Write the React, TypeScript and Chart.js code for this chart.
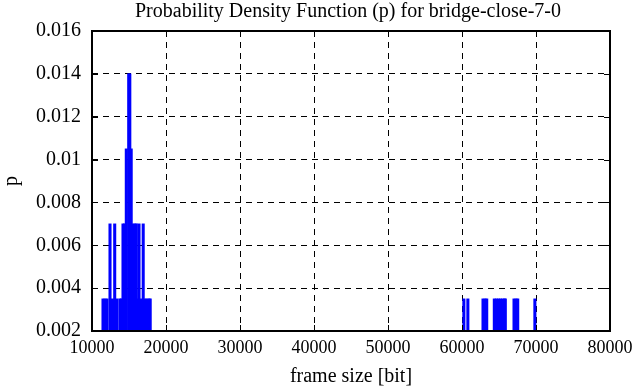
import React, { useEffect, useRef } from "react";
import { Chart, registerables } from "chart.js";

Chart.register(...registerables);

// Frame sizes (bit) of the impulses and their probabilities
const frameSizes = [
  11487, 11757, 12027, 12433, 12770, 13068, 13378,
  13784, 13960, 14189, 14406, 14635, 14960, 15108, 15297, 15541, 15811, 15987,
  16162, 16352, 16649, 16919, 17162, 17432, 17703, 17865,
  60252, 60792, 62840, 63110, 63340,
  64367, 64637, 64908, 65178, 65448, 65719, 65854,
  67030, 67300, 67530, 69848,
];
const probabilities = [
  0.0035, 0.0035, 0.0035, 0.007, 0.0035, 0.007, 0.0035,
  0.0035, 0.0035, 0.007, 0.007, 0.0105, 0.014, 0.014, 0.0105, 0.007, 0.007, 0.007,
  0.0035, 0.007, 0.0035, 0.007, 0.0035, 0.0035, 0.0035, 0.0035,
  0.0035, 0.0035, 0.0035, 0.0035, 0.0035,
  0.0035, 0.0035, 0.0035, 0.0035, 0.0035, 0.0035, 0.0035,
  0.0035, 0.0035, 0.0035, 0.0035,
];
const xTicks = [10000, 20000, 30000, 40000, 50000, 60000, 70000, 80000];
const yTicks = [0.002, 0.004, 0.006, 0.008, 0.01, 0.012, 0.014, 0.016];

const titleText = "Probability Density Function (p) for bridge-close-7-0";
const xTitle = "frame size [bit]";
const yTitle = "p";

const FONT = "'Liberation Serif', 'Times New Roman', serif";
const FS = 20;

const framePlugin = {
  id: "gnuplotFrame",
  afterDraw(chart: any) {
    const { ctx, chartArea } = chart;
    const { left, right, top, bottom } = chartArea;
    const xs = chart.scales.x;
    const ys = chart.scales.y;
    ctx.save();
    ctx.strokeStyle = "#000";
    ctx.setLineDash([]);
    ctx.lineWidth = 1;
    const t = 6;
    ctx.beginPath();
    xTicks.forEach((v) => {
      const px = Math.round(xs.getPixelForValue(v)) + 0.5;
      ctx.moveTo(px, bottom);
      ctx.lineTo(px, bottom - t);
      ctx.moveTo(px, top);
      ctx.lineTo(px, top + t);
    });
    yTicks.forEach((v) => {
      const py = Math.round(ys.getPixelForValue(v)) + 0.5;
      ctx.moveTo(left, py);
      ctx.lineTo(left + t, py);
      ctx.moveTo(right, py);
      ctx.lineTo(right - t, py);
    });
    ctx.stroke();
    ctx.lineWidth = 2;
    ctx.strokeRect(left, top, right - left, bottom - top);
    // title
    ctx.fillStyle = "#000";
    ctx.font = `${FS}px ${FONT}`;
    ctx.textAlign = "center";
    ctx.textBaseline = "middle";
    ctx.fillText(titleText, (left + right) / 2 - 3, 12);
    ctx.restore();
  },
};

export default function App() {
  const ref = useRef<HTMLCanvasElement | null>(null);
  useEffect(() => {
    if (!ref.current) return;
    const chart = new Chart(ref.current, {
      type: "bar",
      data: {
        datasets: [
          {
            data: frameSizes.map((x, i) => ({ x, y: probabilities[i] })),
            backgroundColor: "#0000ff",
            borderWidth: 0,
            barThickness: 2.4,
          } as any,
        ],
      },
      plugins: [framePlugin],
      options: {
        animation: false,
        responsive: false,
        maintainAspectRatio: false,
        layout: { padding: { left: 0, right: 26, top: 31, bottom: 0 } },
        plugins: {
          legend: { display: false },
          tooltip: { enabled: false },
          title: { display: false },
        },
        scales: {
          x: {
            type: "linear",
            min: 10000,
            max: 80000,
            offset: false,
            afterBuildTicks: (s: any) => {
              s.ticks = xTicks.map((v) => ({ value: v }));
            },
            afterFit: (s: any) => {
              s.height = 56;
              s.paddingRight = 0;
              s.paddingLeft = 0;
            },
            ticks: {
              color: "#000",
              font: { family: FONT, size: 18 },
              padding: 6,
              maxRotation: 0,
              autoSkip: false,
              callback: (v: any) => String(v),
            },
            grid: { color: "#000", drawTicks: false, lineWidth: 1, offset: false },
            border: { display: false, dash: [6, 5] },
            title: {
              display: true,
              text: xTitle,
              color: "#000",
              font: { family: FONT, size: FS, lineHeight: 1 },
              padding: { top: 0, bottom: 0 },
            },
          },
          y: {
            type: "linear",
            min: 0.002,
            max: 0.016,
            afterBuildTicks: (s: any) => {
              s.ticks = yTicks.map((v) => ({ value: v }));
            },
            afterFit: (s: any) => {
              s.width = 92;
            },
            ticks: {
              color: "#000",
              font: { family: FONT, size: FS },
              padding: 11,
              autoSkip: false,
              callback: (v: any) => String(v),
            },
            grid: { color: "#000", drawTicks: false, lineWidth: 1 },
            border: { display: false, dash: [6, 5] },
            title: {
              display: true,
              text: yTitle,
              color: "#000",
              font: { family: FONT, size: FS },
              padding: { top: 0, bottom: 0 },
            },
          },
        },
      },
    });
    return () => chart.destroy();
  }, []);
  return (
    <div style={{ position: "absolute", left: 0, top: 0, width: 636, height: 387, background: "#fff" }}>
      <canvas ref={ref} width={636} height={387} style={{ width: 636, height: 387 }} />
    </div>
  );
}
